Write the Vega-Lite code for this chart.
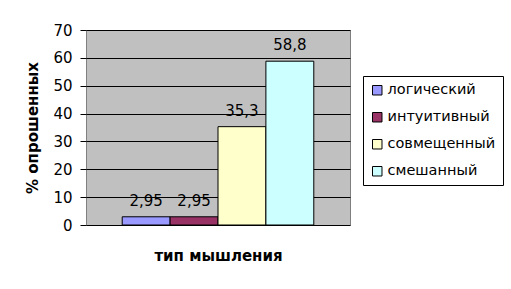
{
  "$schema": "https://vega.github.io/schema/vega-lite/v6.json",
  "width": 264,
  "height": 195,
  "autosize": {"type": "none"},
  "padding": {"left": 86, "top": 30, "right": 161, "bottom": 64},
  "background": "white",
  "data": {
    "values": [
      {"type": "логический", "value": 2.95, "label": "2,95"},
      {"type": "интуитивный", "value": 2.95, "label": "2,95"},
      {"type": "совмещенный", "value": 35.3, "label": "35,3"},
      {"type": "смешанный", "value": 58.8, "label": "58,8"}
    ]
  },
  "encoding": {
    "x": {
      "field": "type",
      "type": "nominal",
      "sort": ["логический", "интуитивный", "совмещенный", "смешанный"],
      "scale": {"paddingInner": 0, "paddingOuter": 0.756},
      "axis": {
        "title": "тип мышления",
        "labels": false,
        "ticks": false,
        "domain": false,
        "titleFont": "DejaVu Sans",
        "titleFontSize": 15,
        "titleFontWeight": "bold",
        "titleColor": "black",
        "titlePadding": 23
      }
    },
    "y": {
      "field": "value",
      "type": "quantitative",
      "scale": {"domain": [0, 70]},
      "axis": {
        "title": "% опрошенных",
        "values": [0, 10, 20, 30, 40, 50, 60, 70],
        "grid": true,
        "gridColor": "black",
        "gridOpacity": 1,
        "domain": false,
        "tickColor": "black",
        "tickSize": 6,
        "labelPadding": 8,
        "labelFont": "DejaVu Sans",
        "labelFontSize": 15,
        "labelColor": "black",
        "titleFont": "DejaVu Sans",
        "titleFontSize": 15,
        "titleFontWeight": "bold",
        "titleColor": "black",
        "titlePadding": 12
      }
    }
  },
  "layer": [
    {
      "mark": {"type": "bar", "stroke": "black", "strokeWidth": 1},
      "encoding": {
        "color": {
          "field": "type",
          "type": "nominal",
          "scale": {
            "domain": ["логический", "интуитивный", "совмещенный", "смешанный"],
            "range": ["#9999FF", "#993366", "#FFFFCC", "#CCFFFF"]
          },
          "legend": {
            "title": null,
            "orient": "none",
            "legendX": 277,
            "legendY": 46,
            "strokeColor": "black",
            "fillColor": "white",
            "padding": 7,
            "symbolType": "square",
            "symbolSize": 90,
            "symbolStrokeColor": "black",
            "symbolStrokeWidth": 1,
            "symbolOpacity": 1,
            "labelFont": "DejaVu Sans",
            "labelFontSize": 14.5,
            "labelColor": "black",
            "labelOffset": 3,
            "rowPadding": 12
          }
        }
      }
    },
    {
      "mark": {"type": "text", "baseline": "alphabetic", "dy": -11, "font": "DejaVu Sans", "fontSize": 15, "color": "black"},
      "encoding": {"text": {"field": "label"}}
    }
  ],
  "config": {
    "view": {"fill": "#C0C0C0", "stroke": "#808080", "strokeWidth": 1}
  }
}
